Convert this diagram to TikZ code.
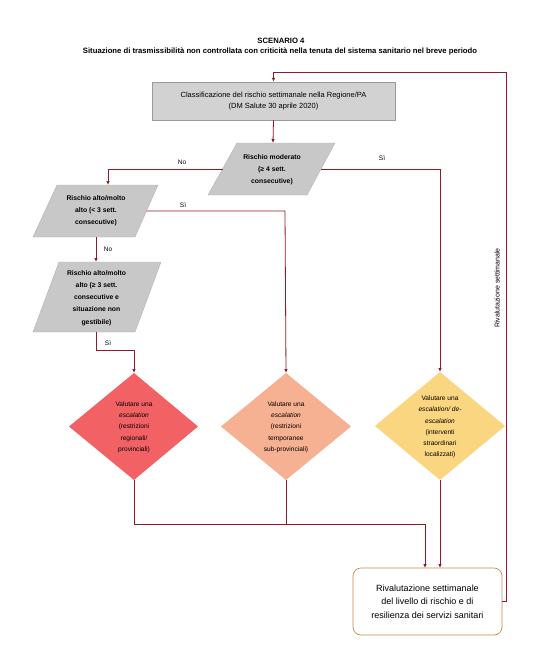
\documentclass[tikz,border=0pt]{standalone}
\usepackage{fontspec}
\setmainfont{Liberation Sans}
\usetikzlibrary{arrows.meta}
\definecolor{lnk}{HTML}{8E1B2A}
\definecolor{pgray}{HTML}{C8C8C8}
\definecolor{pgrayb}{HTML}{B4B4B4}
\definecolor{cgray}{HTML}{D2D2D2}
\definecolor{cgrayb}{HTML}{9A9A9A}
\definecolor{dred}{HTML}{F26265}
\definecolor{dsalmon}{HTML}{F6B092}
\definecolor{dyellow}{HTML}{FBD680}
\definecolor{finb}{HTML}{C58A50}
\begin{document}
\begin{tikzpicture}[x=1pt,y=-1pt,
  conn/.style={draw=lnk, line width=0.8pt},
  arr/.style={conn, -{Latex[length=4pt,width=3.5pt]}},
  ptext/.style={font=\fontsize{6.8}{12.2}\selectfont\bfseries, align=center, inner sep=0},
  dtext/.style={font=\fontsize{6.6}{11.3}\selectfont, align=center, inner sep=0},
  lbl/.style={font=\fontsize{6.5}{7}\selectfont, inner sep=0},
  gshape/.style={fill=pgray, draw=pgrayb, line width=0.4pt},
  ttl/.style={font=\fontsize{7.7}{9}\selectfont\bfseries, inner sep=0}]
\useasboundingbox (0,0) rectangle (559,659);
\fill[white] (0,0) rectangle (559,659);

% title
\node[ttl] (t1) at (281,41) {SCENARIO 4};
\node[ttl] (t2) at (280,51) {Situazione di trasmissibilità non controllata con criticità nella tenuta del sistema sanitario nel breve periodo};

% classification box
\node[draw=cgrayb, fill=cgray, line width=0.5pt, minimum width=243pt, minimum height=38pt, inner sep=0,
      font=\fontsize{7.5}{10.5}\selectfont, align=center] (cls) at (273.5,101)
  {Classificazione del rischio settimanale nella Regione/PA\\(DM Salute 30 aprile 2020)};

% moderato parallelogram
\coordinate (modTL) at (237,143); \coordinate (modTR) at (335,143);
\coordinate (modBR) at (307,195); \coordinate (modBL) at (208,195);
\coordinate (modL) at (222.5,169); \coordinate (modR) at (321,169);
\coordinate (modT) at (273,143);
\draw[gshape] (modTL) -- (modTR) -- (modBR) -- (modBL) -- cycle;
\node[ptext] (mod) at (272,170) {Rischio moderato\\(≥ 4 sett.\\consecutive)};

% alto 1
\coordinate (a1TL) at (57,185); \coordinate (a1TR) at (158,185);
\coordinate (a1BR) at (135,237); \coordinate (a1BL) at (33,237);
\coordinate (a1T) at (108,185); \coordinate (a1R) at (146.5,211);
\coordinate (a1B) at (96,237);
\draw[gshape] (a1TL) -- (a1TR) -- (a1BR) -- (a1BL) -- cycle;
\node[ptext] (a1) at (96,211) {Rischio alto/molto\\alto (< 3 sett.\\consecutive)};

% alto 2
\coordinate (a2TL) at (59,262); \coordinate (a2TR) at (161,262);
\coordinate (a2BR) at (135,332); \coordinate (a2BL) at (33,332);
\coordinate (a2T) at (96,262); \coordinate (a2B) at (96,332);
\draw[gshape] (a2TL) -- (a2TR) -- (a2BR) -- (a2BL) -- cycle;
\node[ptext] (a2) at (96.5,298) {Rischio alto/molto\\alto (≥ 3 sett.\\consecutive e\\situazione non\\gestibile)};

% diamonds
\coordinate (rT) at (134,373); \coordinate (rR) at (198,426.5);
\coordinate (rB) at (134,480); \coordinate (rL) at (69,426.5);
\fill[dred] (rT) -- (rR) -- (rB) -- (rL) -- cycle;
\node[dtext] (red) at (134,427) {Valutare una\\\textit{escalation}\\(restrizioni\\regionali/\\provinciali)};

\coordinate (sT) at (286,373); \coordinate (sR) at (351,426.5);
\coordinate (sB) at (286,480); \coordinate (sL) at (221,426.5);
\fill[dsalmon] (sT) -- (sR) -- (sB) -- (sL) -- cycle;
\node[dtext] (sal) at (286,427) {Valutare una\\\textit{escalation}\\(restrizioni\\temporanee\\sub-provinciali)};

\coordinate (yT) at (440,372); \coordinate (yR) at (505,426);
\coordinate (yB) at (440,480); \coordinate (yL) at (375,426);
\fill[dyellow] (yT) -- (yR) -- (yB) -- (yL) -- cycle;
\node[dtext] (yel) at (440,427) {Valutare una\\\textit{escalation/ de-}\\\textit{escalation}\\(interventi\\straordinari\\localizzati)};

% final box
\node[draw=finb, fill=white, line width=0.7pt, rounded corners=8pt, minimum width=149pt, minimum height=67pt,
      inner sep=0, font=\fontsize{9}{13.5}\selectfont, align=center] (fin) at (427.5,601.5)
  {Rivalutazione settimanale\\del livello di rischio e di\\resilienza dei servizi sanitari};

% connectors
\coordinate (fbR) at (506,72);
\draw[arr] (fin.east) -| (fbR) -| (cls.north);
\node[lbl, font=\fontsize{7}{8}\selectfont, rotate=90] (fbl) at (497,288) {Rivalutazione settimanale};

\draw[arr] (cls.south) -- (modT);
\coordinate (noK) at (108,169);
\draw[arr] (modL) -- (noK) -- (a1T);
\coordinate (siK) at (440,169);
\draw[arr] (modR) -- (siK) -- (yT);
\coordinate (si2K) at (285,211);
\draw[arr] (a1R) -- (si2K) -- (sT);
\draw[arr] (a1B) -- (a2T);
\coordinate (si3a) at (96,350); \coordinate (si3b) at (134,350);
\draw[arr] (a2B) -- (si3a) -- (si3b) -- (rT);

\coordinate (jL) at (134,524); \coordinate (jM) at (286,524); \coordinate (jR) at (425,524);
\coordinate (finA) at (425,568); \coordinate (finB) at (440,568);
\draw[arr] (rB) -- (jL) -- (jR) -- (finA);
\draw[conn] (sB) -- (jM);
\draw[arr] (yB) -- (finB);

% labels
\node[lbl] (lno1) at (182,162) {No};
\node[lbl] (lsi1) at (382,158) {Sì};
\node[lbl] (lsi2) at (183,205) {Sì};
\node[lbl] (lno2) at (108,249) {No};
\node[lbl] (lsi3) at (108,343) {Sì};
\end{tikzpicture}
\end{document}
